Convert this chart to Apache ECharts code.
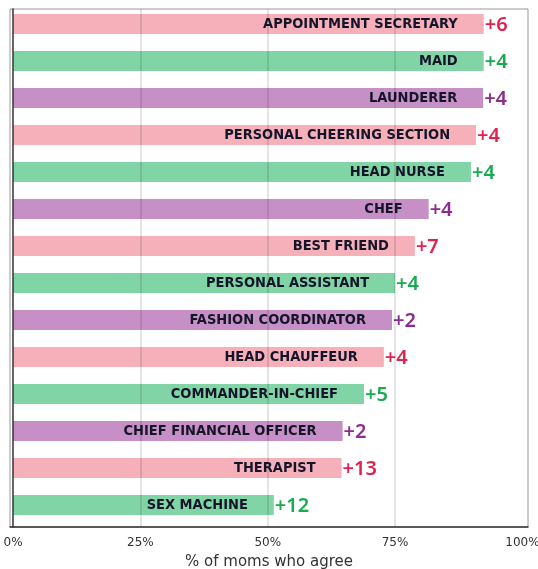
<!DOCTYPE html>
<html>
<head>
<meta charset="utf-8">
<script src="https://cdn.jsdelivr.net/npm/echarts@6/dist/echarts.min.js"></script>
<style>
  html, body { margin: 0; padding: 0; background: #fff; }
  #chart { width: 538px; height: 569px; }
</style>
</head>
<body>
<div id="chart"></div>
<script>
var roles = ["APPOINTMENT SECRETARY", "MAID", "LAUNDERER", "PERSONAL CHEERING SECTION", "HEAD NURSE", "CHEF",
  "BEST FRIEND", "PERSONAL ASSISTANT", "FASHION COORDINATOR", "HEAD CHAUFFEUR", "COMMANDER-IN-CHIEF",
  "CHIEF FINANCIAL OFFICER", "THERAPIST", "SEX MACHINE"];
var agree = [92.4, 92.4, 92.3, 90.9, 89.9, 81.6, 78.9, 75.0, 74.4, 72.8, 68.9, 64.7, 64.5, 51.2];
var change = [6, 4, 4, 4, 4, 4, 7, 4, 2, 4, 5, 2, 13, 12];
var ticks = [0, 25, 50, 75, 100];
var gridTicks = [25, 50, 75];

var barColors = ["#f5b0b9", "#81d4a6", "#c690c6"];
var textColors = ["#e0234e", "#1aaa50", "#8b2c8f"];
var xMin = -0.6, xMax = 101.1;

var chart = echarts.init(document.getElementById("chart"));

var changeData = agree.map(function(v, i) {
    return {
        value: v,
        label: { color: textColors[i % 3] }
    };
});

chart.setOption({
    animation: false,
    grid: [
        { left: 10, width: 518, top: 5.5, height: 518, show: false, outerBoundsMode: "none", containLabel: false },
        { left: 10, width: 518, top: 9, height: 518, show: true, borderColor: "#999", borderWidth: 1,
          outerBoundsMode: "none", containLabel: false }
    ],
    xAxis: [
        { gridIndex: 0, type: "value", min: xMin, max: xMax, show: false },
        {
            gridIndex: 1, type: "value", min: xMin, max: xMax, z: 3,
            axisLine: { show: true, lineStyle: { color: "#333", width: 1.5 } },
            axisTick: { show: false, customValues: gridTicks },
            axisLabel: {
                customValues: ticks, formatter: "{value}%", color: "#333",
                fontFamily: "DejaVu Sans", fontSize: 12, margin: 10
            },
            splitLine: { show: true, lineStyle: { color: "rgba(0,0,0,0.14)", width: 1.5 } },
            name: "% of moms who agree", nameLocation: "middle", nameGap: 28,
            nameTextStyle: { color: "#333", fontFamily: "DejaVu Sans", fontSize: 15 }
        }
    ],
    yAxis: [
        { gridIndex: 0, type: "category", inverse: true, data: roles, show: false },
        {
            gridIndex: 1, type: "value", min: 0, max: 1, z: 3,
            axisLine: { show: true, lineStyle: { color: "#333", width: 1.5 } },
            axisTick: { show: false }, axisLabel: { show: false }, splitLine: { show: false }
        }
    ],
    series: [
        {
            type: "bar", xAxisIndex: 0, yAxisIndex: 0, data: agree, barWidth: 20,
            itemStyle: { color: function(p) { return barColors[p.dataIndex % 3]; } },
            label: {
                show: true, position: "insideRight", distance: 26,
                formatter: function(p) { return roles[p.dataIndex]; },
                color: "#15152a", fontFamily: "DejaVu Sans Condensed", fontWeight: "bold", fontSize: 14.5
            }
        },
        {
            type: "bar", xAxisIndex: 0, yAxisIndex: 0, data: changeData, barWidth: 20, barGap: "-100%",
            itemStyle: { color: "rgba(0,0,0,0)" },
            label: {
                show: true, position: "right", distance: 1, offset: [0, 1.5],
                formatter: function(p) { return "+" + change[p.dataIndex]; },
                fontFamily: "Noto Sans", fontWeight: 600, fontSize: 20
            }
        }
    ]
});
</script>
</body>
</html>
